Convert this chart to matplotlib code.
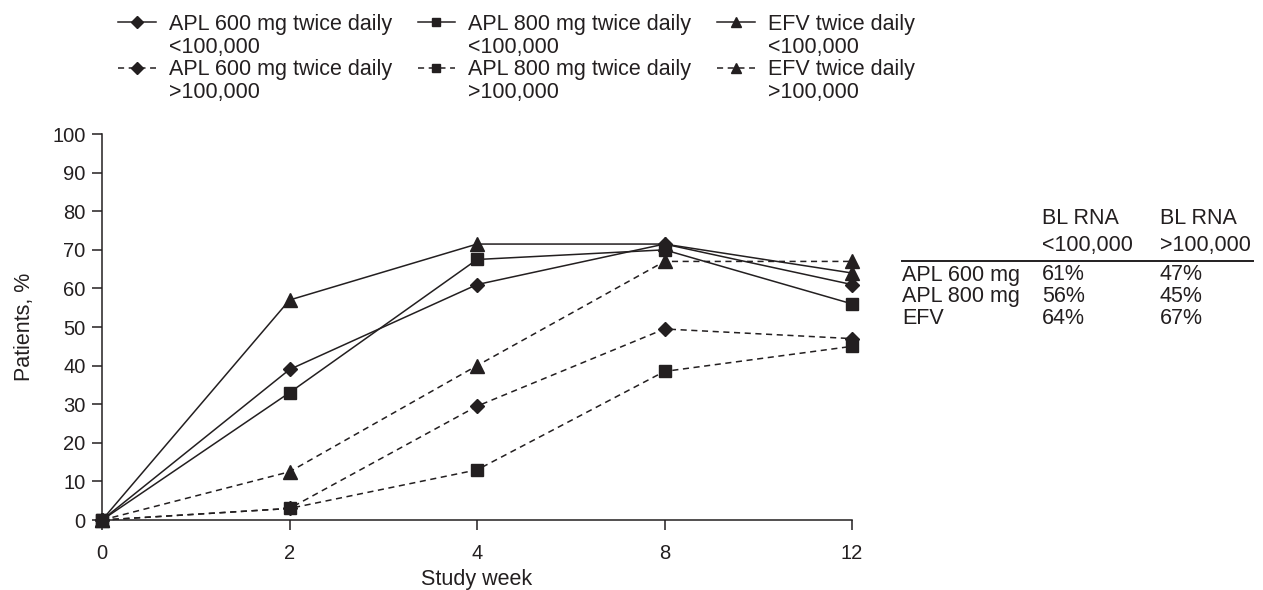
import matplotlib
matplotlib.use("Agg")
import matplotlib.pyplot as plt
from matplotlib.lines import Line2D

plt.rcParams['font.family'] = ['Liberation Sans', 'DejaVu Sans']
plt.rcParams['font.size'] = 15.5

# data
weeks = ["0", "2", "4", "8", "12"]
apl600_lo = [0, 39, 61, 71.5, 61]
apl800_lo = [0, 33, 67.5, 70, 56]
efv_lo = [0, 57, 71.5, 71.5, 64]
apl600_hi = [0, 3, 29.5, 49.5, 47]
apl800_hi = [0, 3, 13, 38.5, 45]
efv_hi = [0, 12.5, 40, 67, 67]

legend_names = ["APL 600 mg twice daily", "APL 600 mg twice daily",
                "APL 800 mg twice daily", "APL 800 mg twice daily",
                "EFV twice daily", "EFV twice daily"]
legend_sub = ["<100,000", ">100,000", "<100,000", ">100,000", "<100,000", ">100,000"]

# summary table on the right
table_rows = ["APL 600 mg", "APL 800 mg", "EFV"]
table_head = ["BL RNA\n<100,000", "BL RNA\n>100,000"]
table_lo = ["61%", "56%", "64%"]
table_hi = ["47%", "45%", "67%"]

ink = "#231f20"

fig = plt.figure(figsize=(12.63, 5.9), dpi=100)
ax = fig.add_axes([0.0808, 0.1186, 0.5938, 0.6542])

x = list(range(len(weeks)))
series = [
    (apl600_lo, "D", "-"),
    (apl600_hi, "D", "--"),
    (apl800_lo, "s", "-"),
    (apl800_hi, "s", "--"),
    (efv_lo, "^", "-"),
    (efv_hi, "^", "--"),
]
sizes = {"D": 7.5, "s": 8.5, "^": 10}
handles = []
for vals, mk, ls in series:
    line, = ax.plot(x, vals, color=ink, marker=mk, markersize=sizes[mk],
                    linestyle=ls, linewidth=1.1, clip_on=False, zorder=3)
    if ls == "--":
        line.set_dashes((4, 3))
    handles.append(line)

ax.set_xlim(0, 4)
ax.set_ylim(0, 100)
ax.set_xticks(x)
ax.set_xticklabels(weeks)
ax.set_yticks(range(0, 101, 10))
ax.spines['top'].set_visible(False)
ax.spines['right'].set_visible(False)
for s in ['left', 'bottom']:
    ax.spines[s].set_linewidth(1.1)
    ax.spines[s].set_color(ink)
ax.tick_params(axis='both', direction='out', length=7, width=1.1, color=ink,
               labelcolor=ink, labelsize=14.5)
ax.tick_params(axis='y', pad=5)
ax.tick_params(axis='x', pad=10)
ax.set_xlabel("Study week", color=ink)
ax.set_ylabel("Patients, %", color=ink)
ax.xaxis.set_label_coords(0.5, -0.127)
ax.yaxis.set_label_coords(-0.0897, 0.5)

# legend: each entry takes two rows, the second one with an empty handle
blank = Line2D([], [], linestyle='none', marker='none')
leg_handles = []
leg_labels = []
for h, name, sub in zip(handles, legend_names, legend_sub):
    leg_handles += [h, blank]
    leg_labels += [name, sub]

leg = fig.legend(leg_handles, leg_labels, ncol=3, loc='upper left',
                 bbox_to_anchor=(0.0934, 0.9765), frameon=False,
                 borderpad=0, borderaxespad=0, handlelength=1.75,
                 handletextpad=0.6, columnspacing=1.2, labelspacing=0.08,
                 markerscale=0.75, fontsize=15.5)
for t in leg.get_texts():
    t.set_color(ink)

# table
W, H = 1263.0, 590.0
cols_x = [902, 1042, 1160]
for j, head in enumerate(table_head):
    top, bottom = head.split("\n")
    fig.text(cols_x[j + 1] / W, 1 - 219 / H, top, va='center', ha='left', color=ink)
    fig.text(cols_x[j + 1] / W, 1 - 246 / H, bottom, va='center', ha='left', color=ink)
fig.add_artist(Line2D([902 / W, 1253 / W], [1 - 261 / H, 1 - 261 / H],
                      transform=fig.transFigure, color=ink, linewidth=1.4))
row_y = [275, 296.5, 318]
for name, lo, hi, yy in zip(table_rows, table_lo, table_hi, row_y):
    fig.text(cols_x[0] / W, 1 - yy / H, name, va='center', ha='left', color=ink)
    fig.text(cols_x[1] / W, 1 - yy / H, lo, va='center', ha='left', color=ink)
    fig.text(cols_x[2] / W, 1 - yy / H, hi, va='center', ha='left', color=ink)

fig.savefig("out.png", dpi=100)
